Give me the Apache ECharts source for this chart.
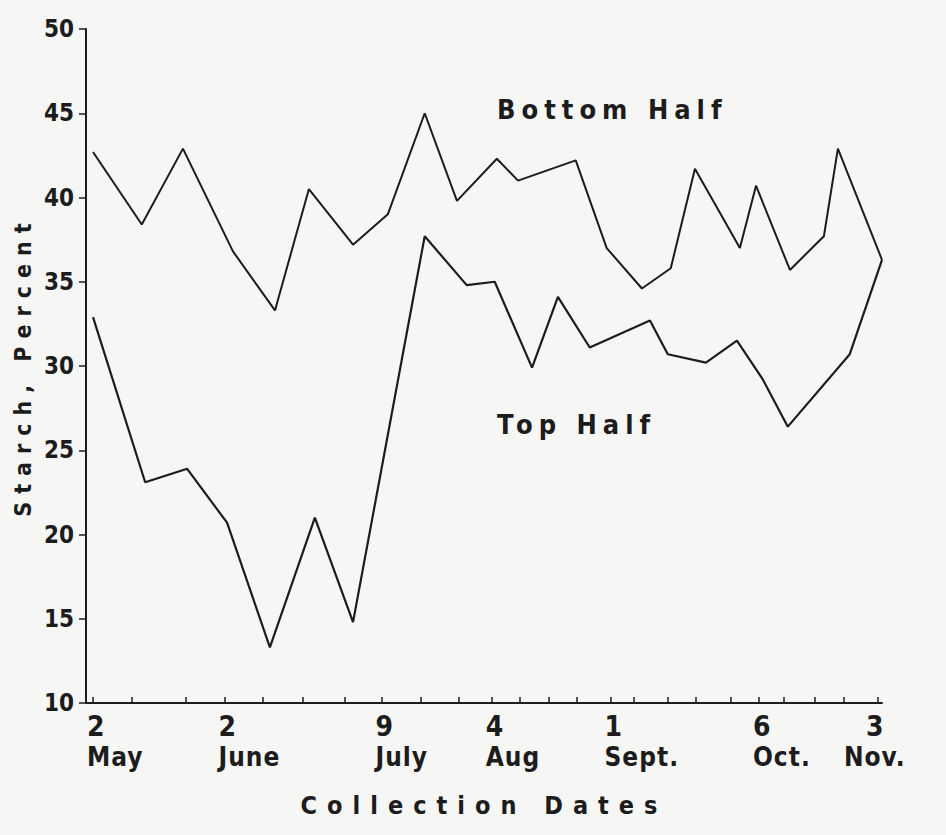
<!DOCTYPE html>
<html>
<head>
<meta charset="utf-8">
<title>Starch, Percent</title>
<script src="https://cdn.jsdelivr.net/npm/echarts@6/dist/echarts.min.js"></script>
<style>
  html, body { margin: 0; padding: 0; background: #f6f6f4; }
  #main { width: 946px; height: 835px; }
  /* the hand lettering is widely spaced; spacing picked per font size */
  #main text[style*="26px"], #main tspan[style*="26px"] { letter-spacing: 1px; }
  #main text[style*="27px"], #main tspan[style*="27px"] { letter-spacing: 6px; }
  #main text[style*="23px"], #main tspan[style*="23px"] { letter-spacing: 8px; }
  #main text[style*="25px"], #main tspan[style*="25px"] { letter-spacing: 10px; }
</style>
</head>
<body>
<div id="main"></div>
<script>
// days counted from 2 May
var bottomDays = [0, 11.5, 21.2, 33.0, 42.9, 50.9, 61.3, 69.5, 78.2, 85.8, 95.2, 100.2, 113.8, 121.1, 129.4, 136.2, 141.9, 152.5, 156.3, 164.3, 172.3, 175.6, 186];
var bottomHalf = [42.7, 38.4, 42.9, 36.8, 33.3, 40.5, 37.2, 39.0, 45.0, 39.8, 42.3, 41.0, 42.2, 37.0, 34.6, 35.8, 41.7, 37.0, 40.7, 35.7, 37.7, 42.9, 36.3];

var topDays = [0, 12.3, 22.2, 31.6, 41.7, 52.3, 61.3, 78.2, 88.1, 94.7, 103.5, 109.6, 117.1, 131.3, 135.5, 144.5, 151.8, 157.9, 163.8, 178.4, 186];
var topHalf = [32.9, 23.1, 23.9, 20.7, 13.3, 21.0, 14.8, 37.7, 34.8, 35.0, 29.9, 34.1, 31.1, 32.7, 30.7, 30.2, 31.5, 29.2, 26.4, 30.7, 36.3];

var tickDays = [0, 9.2, 21.9, 31, 40.1, 49.5, 59.4, 68, 77.3, 86.3, 94, 100.6, 107.5, 114.1, 122, 127.5, 135.5, 142.1, 150.4, 157, 162.8, 170.1, 176.9, 185];
var labelDays = [0, 31, 68, 94, 122, 157, 185];
var labelDayNums = ['2', '2', '9', '4', '1', '6', '3'];
var labelMonths = ['May', 'June', 'July', 'Aug', 'Sept.', 'Oct.', 'Nov.'];

function pairs(xs, ys) {
  var out = [];
  for (var i = 0; i < xs.length; i++) out.push([xs[i], ys[i]]);
  return out;
}

var ink = '#1c1c1c';
var narrow = "'Liberation Sans Narrow', 'DejaVu Sans Condensed', sans-serif";

var myChart = echarts.init(document.getElementById('main'), null, { renderer: 'svg' });

var option = {
  backgroundColor: '#f6f6f4',
  animation: false,
  grid: { left: 86, top: 29, right: 64, bottom: 132 },
  xAxis: {
    type: 'value',
    min: -1.65,
    max: 186,
    name: 'Collection Dates',
    nameLocation: 'middle',
    nameGap: 90,
    nameMoveOverlap: false,
    nameTextStyle: { color: ink, fontFamily: narrow, fontWeight: 'bold', fontSize: 25 },
    axisLine: { show: true, onZero: false, lineStyle: { color: ink, width: 2 } },
    axisTick: { show: true, inside: true, length: 6, customValues: tickDays, lineStyle: { color: ink, width: 1.5 } },
    axisLabel: {
      customValues: labelDays,
      margin: 8,
      color: ink,
      align: 'left',
      alignMaxLabel: 'center',
      padding: [0, 0, 0, -6],
      formatter: function (v) {
        var i = labelDays.indexOf(v);
        return '{d|' + labelDayNums[i] + '}\n{m|' + labelMonths[i] + '}';
      },
      rich: {
        d: { fontFamily: narrow, fontWeight: 'bold', fontSize: 28, lineHeight: 30, color: ink },
        m: { fontFamily: narrow, fontWeight: 'bold', fontSize: 26, lineHeight: 32, color: ink }
      }
    },
    splitLine: { show: false }
  },
  yAxis: {
    type: 'value',
    min: 10,
    max: 50,
    interval: 5,
    name: 'Starch, Percent',
    nameLocation: 'middle',
    nameGap: 52,
    nameMoveOverlap: false,
    nameTextStyle: { color: ink, fontFamily: narrow, fontWeight: 'bold', fontSize: 23 },
    axisLine: { show: true, onZero: false, lineStyle: { color: ink, width: 2 } },
    axisTick: { show: true, length: 7, lineStyle: { color: ink, width: 1.5 } },
    axisLabel: { margin: 12, color: ink, fontFamily: narrow, fontWeight: 'bold', fontSize: 24 },
    splitLine: { show: false }
  },
  graphic: [
    { type: 'text', left: 497, top: 96, style: { text: 'Bottom Half', fill: ink, font: "bold 27px " + narrow } },
    { type: 'text', left: 497, top: 411, style: { text: 'Top Half', fill: ink, font: "bold 27px " + narrow } }
  ],
  series: [
    {
      name: 'Bottom Half',
      type: 'line',
      symbol: 'none',
      data: pairs(bottomDays, bottomHalf),
      lineStyle: { color: ink, width: 2 }
    },
    {
      name: 'Top Half',
      type: 'line',
      symbol: 'none',
      data: pairs(topDays, topHalf),
      lineStyle: { color: ink, width: 2.2 }
    }
  ]
};

myChart.setOption(option);
</script>
</body>
</html>
